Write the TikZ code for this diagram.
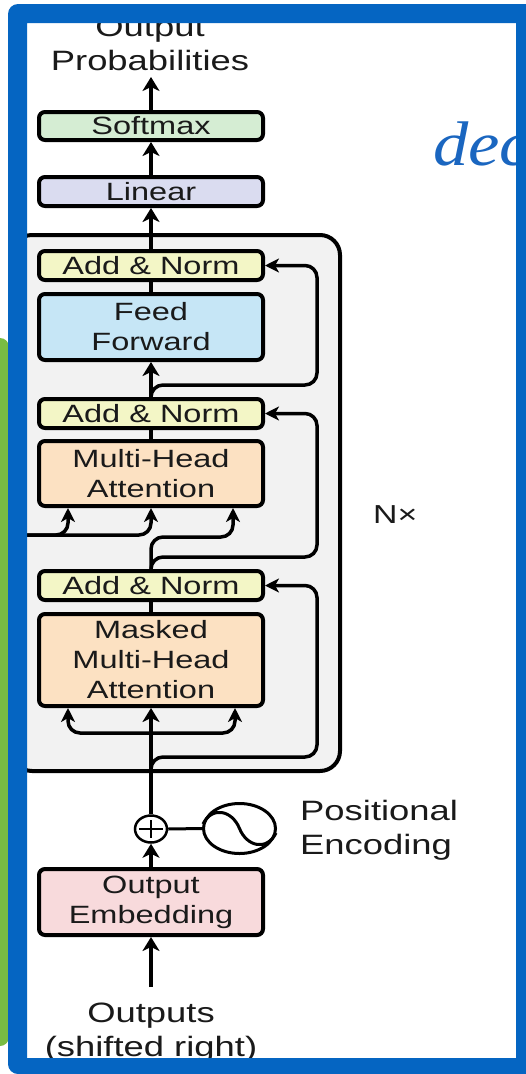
\documentclass[tikz,border=0pt]{standalone}
\usepackage{fontspec}
\usetikzlibrary{arrows.meta,shapes.geometric,calc}
\newfontfamily\hv[FakeStretch=1.3]{Liberation Sans}
\newfontfamily\decfont[FakeStretch=1.12]{Liberation Serif}
\definecolor{frameblue}{HTML}{0565C2}
\definecolor{sidegreen}{HTML}{78BC43}
\definecolor{decblue}{HTML}{1A66C0}
\definecolor{greybg}{HTML}{F2F2F2}
\definecolor{smgreen}{HTML}{D5EDD3}
\definecolor{linpurple}{HTML}{DADCF0}
\definecolor{anyellow}{HTML}{F3F6C6}
\definecolor{ffblue}{HTML}{C6E6F6}
\definecolor{mhaorange}{HTML}{FCE1C2}
\definecolor{embpink}{HTML}{F8DADC}
\definecolor{txt}{HTML}{1A1A1A}
\tikzset{
  box/.style={draw=black, line width=4pt, rounded corners=6pt, minimum width=224pt,
    inner sep=0pt, align=center, text=txt, font=\hv\fontsize{25}{30}\selectfont},
  lbl/.style={inner sep=0pt, align=center, text=txt, font=\hv\fontsize{28}{34}\selectfont},
  arr/.style={line width=4pt, -{Stealth[length=14pt,width=17pt,inset=4pt]}},
  res/.style={line width=3.5pt, rounded corners=12pt, -{Stealth[length=14pt,width=14pt,inset=4pt]}},
  conn/.style={line width=4pt}
}
\begin{document}
\begin{tikzpicture}[x=1pt,y=-1pt]
\fill[white] (0,0) rectangle (525,1074);
\useasboundingbox (0,0) rectangle (525,1074);
% decoder stack frame
\filldraw[fill=greybg, draw=black, line width=4pt, rounded corners=20pt] (12,235) rectangle (340,771);
% boxes
\node[box, fill=smgreen, minimum height=28pt] (softmax) at (151,126) {Softmax};
\node[box, fill=linpurple, minimum height=29pt] (linear) at (151,191.5) {Linear};
\node[box, fill=anyellow, minimum height=29pt] (an1) at (151,265.5) {Add \& Norm};
\node[box, fill=ffblue, minimum height=66pt] (ff) at (151,327) {Feed\\Forward};
\node[box, fill=anyellow, minimum height=29pt] (an2) at (151,413.5) {Add \& Norm};
\node[box, fill=mhaorange, minimum height=65pt] (mha) at (151,473.5) {Multi-Head\\Attention};
\node[box, fill=anyellow, minimum height=29pt] (an3) at (151,585.5) {Add \& Norm};
\node[box, fill=mhaorange, minimum height=92pt] (mmha) at (151,660) {Masked\\Multi-Head\\Attention};
\node[box, fill=embpink, minimum height=66pt] (emb) at (151,902) {Output\\Embedding};
% labels
\node[lbl, anchor=north] (outprob) at (150,17) {Output\\Probabilities};
\node[lbl, anchor=north] (outputs) at (151,1003) {Outputs\\(shifted right)};
\node[lbl, anchor=north west, align=left] (poslbl) at (300,800) {Positional\\Encoding};
\node[inner sep=0pt, anchor=base west, text=txt, font=\hv\fontsize{26}{30}\selectfont] (nx) at (373,523) {N×};
\node[inner sep=0pt, anchor=base west, text=decblue, font=\decfont\itshape\fontsize{63}{70}\selectfont] (dec) at (433,165) {dec};
% positional encoding
\node[ellipse, draw=black, line width=2.5pt, minimum width=32pt, minimum height=27pt, inner sep=0pt] (plus) at (151,829) {};
\draw[line width=2.5pt] ($(plus.center)+(-12,0)$) -- ($(plus.center)+(12,0)$);
\draw[line width=2.5pt] ($(plus.center)+(0,-9)$) -- ($(plus.center)+(0,9)$);
\node[ellipse, draw=black, line width=3pt, minimum width=72pt, minimum height=50pt, inner sep=0pt] (pe) at (239.5,828.5) {};
\draw[line width=3pt] (plus.east) -- (pe.west);
\draw[line width=3pt] (203,824) .. controls (212,806) and (232,810) .. (pe.center) .. controls (247,847) and (267,851) .. (276,833);
% coordinates
\coordinate (optip) at (151,77);
\coordinate (inp) at (151,987);
\coordinate (enc) at (14,535);
\coordinate (mbr) at (151,733);
\coordinate (r3) at (151,770);
% main flow
\draw[arr] (inp) -- (emb.south);
\draw[arr] (emb.north) -- (plus.south);
\draw[arr] (plus.north) -- (mmha.south);
\draw[conn] (mmha.north) -- (an3.south);
\draw[conn] (mha.north) -- (an2.south);
\draw[arr] (an2.north) -- (ff.south);
\draw[conn] (ff.north) -- (an1.south);
\draw[arr] (an1.north) -- (linear.south);
\draw[arr] (linear.north) -- (softmax.south);
\draw[arr] (softmax.north) -- (optip);
% masked attention inputs
\draw[res] (mbr) -- (68,733) -- ($(mmha.south)+(-83,0)$);
\draw[res] (mbr) -- (235,733) -- ($(mmha.south)+(84,0)$);
% residuals
\draw[res] (r3) -- (151,757) -- (317,757) -- (317,585.5) -- (an3.east);
\draw[res] (an3.north) -- (151,557) -- (317,557) -- (317,413.5) -- (an2.east);
\draw[res] (an2.north) -- (151,385) -- (317,385) -- (317,265.5) -- (an1.east);
% attention inputs
\draw[res] (an3.north) -- (151,537) -- (233,537) -- ($(mha.south)+(82,0)$);
\draw[res] (enc) -- (151,535) -- (mha.south);
\draw[res] (enc) -- (68,535) -- ($(mha.south)+(-83,0)$);
% side green and blue frame
\fill[sidegreen, rounded corners=9pt] (-20,338) rectangle (9,1046);
\fill[frameblue, even odd rule] [rounded corners=10pt] (8,4) rectangle (535,1074) [sharp corners] (27,23) rectangle (516,1058);
\end{tikzpicture}
\end{document}
